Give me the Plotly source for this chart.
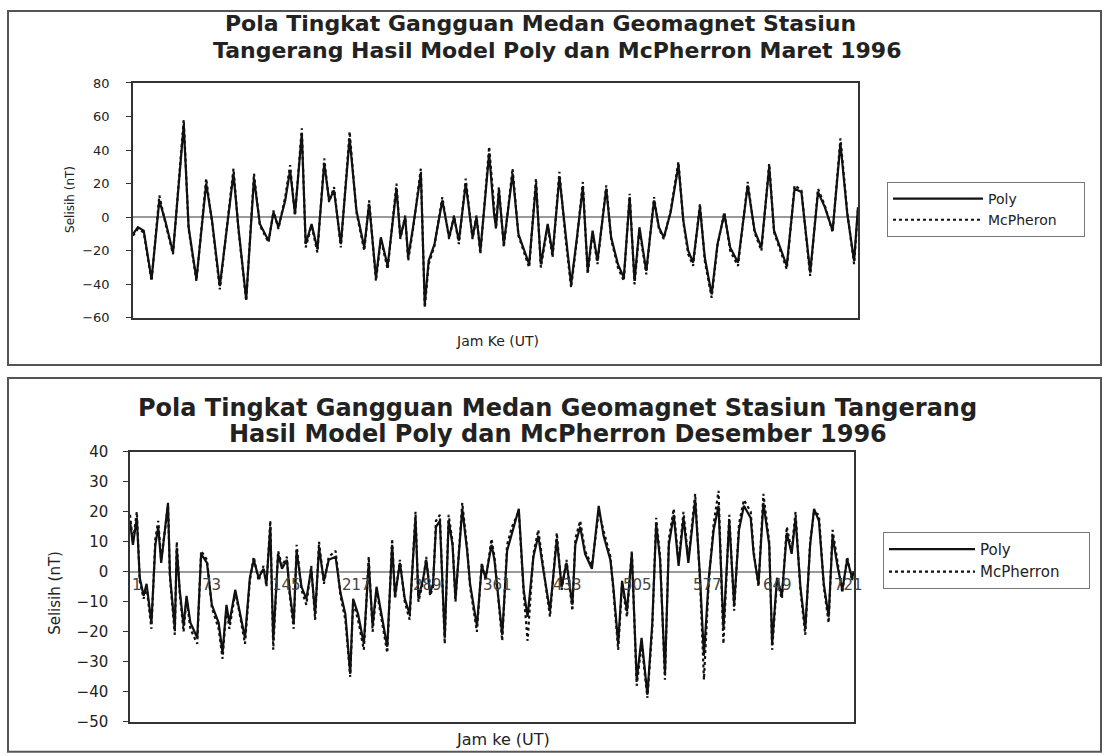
import plotly.graph_objects as go

# ---------------- data: March 1996 (hour, nT) ----------------
hours_mar = [1, 6, 12, 20, 28, 34, 42, 53, 58, 66,
             76, 82, 90, 104, 109, 117, 125, 131, 140, 145,
             150, 157, 162, 167, 174, 178, 184, 190, 197, 202,
             207, 214, 223, 230, 238, 243, 250, 255, 262, 271,
             275, 280, 283, 288, 296, 300, 304, 310, 318, 325,
             330, 335, 342, 349, 353, 357, 366, 371, 373, 376,
             381, 390, 396, 407, 414, 419, 426, 431, 438, 444,
             450, 456, 462, 467, 472, 477, 486, 491, 498, 504,
             510, 515, 520, 527, 535, 540, 545, 552, 560, 565,
             570, 575, 582, 587, 594, 600, 607, 613, 621, 631,
             638, 645, 653, 658, 671, 679, 686, 695, 703, 710,
             718, 726, 733, 740, 744]
poly_mar = [-10, -6, -8, -37, 10, -2, -21, 55, -6, -37,
            20, -2, -41, 26, -6, -49, 23, -4, -14, 3,
            -6, 10, 28, 2, 50, -16, -4, -19, 32, 10,
            16, -16, 47, 4, -18, 8, -36, -12, -29, 17,
            -12, 0, -24, -6, 26, -52, -26, -16, 10, -12,
            0, -14, 20, -12, 0, -20, 38, 2, -6, 16,
            -16, 26, -10, -28, 20, -28, -4, -22, 24, -10,
            -40, -12, 18, -32, -8, -26, 17, -12, -28, -36,
            12, -38, -6, -32, 10, -6, -12, 3, 31, -2,
            -20, -27, 6, -24, -46, -16, 2, -18, -27, 19,
            -8, -18, 30, -8, -29, 17, 15, -33, 15, 6,
            -8, 44, 2, -26, 6]
mcp_mar = [-11, -7, -9, -38, 13, -3, -22, 58, -7, -38,
           23, -3, -43, 29, -7, -50, 26, -5, -15, 4,
           -7, 12, 31, 1, 53, -18, -5, -21, 35, 9,
           18, -18, 51, 3, -20, 10, -38, -13, -31, 20,
           -13, 1, -26, -7, 29, -54, -28, -17, 12, -13,
           1, -16, 23, -13, 1, -22, 42, 3, -7, 18,
           -18, 29, -11, -30, 23, -30, -5, -24, 27, -11,
           -42, -13, 21, -34, -9, -28, 19, -13, -30, -38,
           14, -40, -7, -34, 12, -7, -13, 4, 33, -3,
           -22, -29, 8, -26, -48, -17, 3, -20, -29, 21,
           -9, -20, 32, -9, -31, 19, 16, -35, 17, 7,
           -9, 47, 3, -28, 5]

# ---------------- data: December 1996 (hour, nT) ----------------
hours_dec = [1, 4, 8, 11, 15, 18, 23, 27, 30, 33,
             40, 42, 47, 49, 52, 56, 59, 63, 70, 74,
             80, 85, 92, 96, 100, 103, 109, 113, 119, 124,
             128, 133, 138, 141, 145, 148, 153, 157, 162, 165,
             169, 172, 177, 182, 187, 191, 195, 200, 205, 212,
             217, 222, 227, 230, 235, 241, 246, 250, 254, 259,
             265, 270, 273, 278, 283, 288, 294, 297, 302, 305,
             309, 312, 315, 319, 324, 328, 332, 335, 342, 347,
             350, 357, 362, 366, 372, 375, 383, 388, 393, 400,
             405, 409, 415, 420, 425, 432, 439, 444, 449, 455,
             458, 463, 468, 475, 482, 487, 494, 497, 502, 506,
             511, 516, 521, 526, 532, 537, 541, 545, 550, 554,
             559, 564, 569, 574, 581, 586, 590, 595, 600, 605,
             610, 616, 621, 626, 631, 638, 641, 646, 651, 657,
             660, 665, 670, 675, 680, 684, 689, 694, 699, 703,
             708, 713, 718, 722, 727, 732, 737, 742, 744]
poly_dec = [17, 9, 18, -2, -8, -4, -17, 9, 15, 3,
            23, -1, -19, 8, -6, -18, -8, -17, -22, 6,
            3, -11, -17, -27, -11, -17, -6, -12, -22, -2,
            4, -2, 1, -4, 15, -23, 6, 1, 4, -7,
            -17, 7, -5, -9, 1, -14, 8, -3, 4, 5,
            -7, -14, -34, -9, -14, -24, 3, -18, -5, -14,
            -25, 9, -8, 3, -9, -14, 18, -9, -2, 4,
            -7, -4, 15, 17, -22, 17, 9, -9, 21, 7,
            -4, -18, 2, -2, 9, 4, -21, 7, 13, 21,
            -6, -15, 5, 12, 1, -13, 11, -5, 3, -11,
            9, 15, 6, 1, 22, 12, 4, -5, -24, -3,
            -13, 6, -36, -22, -41, -17, 16, 4, -34, 9,
            19, 2, 18, 3, 24, -2, -28, -2, 14, 22,
            -19, 17, -11, 14, 22, 18, 6, -4, 23, 9,
            -24, -2, -8, 13, 6, 18, -5, -19, 9, 21,
            17, -4, -15, 12, 2, -6, 4, -2, 0]
mcp_dec = [19, 10, 20, -3, -9, -5, -19, 11, 17, 4,
           22, -2, -21, 10, -7, -20, -9, -19, -24, 7,
           4, -12, -19, -29, -12, -19, -7, -13, -24, -3,
           5, -3, 2, -5, 17, -26, 7, 2, 5, -8,
           -19, 9, -6, -11, 2, -16, 10, -4, 5, 7,
           -8, -16, -35, -10, -16, -26, 5, -20, -6, -16,
           -27, 11, -9, 4, -10, -16, 20, -10, -3, 5,
           -8, -5, 17, 19, -24, 19, 10, -10, 23, 8,
           -5, -20, 3, -3, 11, 5, -23, 9, 15, 20,
           -7, -23, 6, 14, 2, -15, 13, -6, 4, -13,
           11, 17, 7, 2, 20, 14, 5, -6, -26, -4,
           -15, 7, -38, -24, -42, -19, 18, 5, -36, 11,
           21, 3, 20, 4, 26, -3, -36, -3, 16, 27,
           -24, 19, -13, 16, 24, 20, 7, -5, 26, 10,
           -26, -3, -9, 15, 7, 20, -6, -21, 10, 20,
           19, -5, -17, 14, 3, -7, 5, -3, 1]

dec_tick_labels = ["1", "73", "145", "217", "289", "361", "433", "505", "577", "649", "721"]

title_top = ["Pola Tingkat Gangguan Medan Geomagnet Stasiun",
             "Tangerang Hasil Model Poly dan McPherron Maret 1996"]
title_bot = ["Pola Tingkat Gangguan Medan Geomagnet Stasiun Tangerang",
             "Hasil Model Poly dan McPherron Desember 1996"]

# ---------------- layout helpers ----------------
W, H = 1106, 756
FONT = "DejaVu Sans"
PAD = "\u00a0" * 5   # widens legend boxes like the original


def px(x):
    return x / W


def py(y):
    # target screen pixel -> paper fraction (compensates page framing)
    yd = (y - 9) / 0.9765
    return 1 - yd / H


fig = go.Figure()

fig.add_trace(go.Scatter(x=hours_mar, y=poly_mar, mode="lines", name="Poly",
                         line=dict(color="#111111", width=2.2),
                         xaxis="x", yaxis="y", legend="legend"))
fig.add_trace(go.Scatter(x=hours_mar, y=mcp_mar, mode="lines", name="McPheron" + PAD,
                         line=dict(color="#111111", width=2.2, dash="dot"),
                         xaxis="x", yaxis="y", legend="legend"))
fig.add_trace(go.Scatter(x=hours_dec, y=poly_dec, mode="lines", name="Poly",
                         line=dict(color="#111111", width=2.2),
                         xaxis="x2", yaxis="y2", legend="legend2"))
fig.add_trace(go.Scatter(x=hours_dec, y=mcp_dec, mode="lines", name="McPherron" + PAD,
                         line=dict(color="#111111", width=2.2, dash="dot"),
                         xaxis="x2", yaxis="y2", legend="legend2"))

axis_common = dict(showline=True, linecolor="#333333", linewidth=1.5, mirror=True,
                   showgrid=False)

fig.update_layout(
    width=W, height=H, autosize=False,
    margin=dict(l=0, r=0, t=0, b=0, pad=0),
    paper_bgcolor="white", plot_bgcolor="white",
    font=dict(family=FONT, color="#222222"),
    xaxis=dict(domain=[px(133), px(858)], range=[1, 744], showticklabels=False,
               ticks="", zeroline=False, anchor="y", **axis_common),
    yaxis=dict(domain=[py(318), py(83)], range=[-60, 80], dtick=20,
               ticks="outside", ticklen=5, tickcolor="#333333",
               ticklabelstandoff=14,
               tickfont=dict(size=13, family=FONT, color="#222222"),
               zeroline=True, zerolinecolor="#9a9a9a", zerolinewidth=1.5,
               anchor="x", **axis_common),
    xaxis2=dict(domain=[px(130), px(854)], range=[1, 744], showticklabels=False,
                ticks="", zeroline=False, anchor="y2", **axis_common),
    yaxis2=dict(domain=[py(722), py(452)], range=[-50, 40], dtick=10,
                ticks="outside", ticklen=5, tickcolor="#333333",
                ticklabelstandoff=12,
                tickfont=dict(size=15, family=FONT, color="#222222"),
                zeroline=True, zerolinecolor="#9a9a9a", zerolinewidth=1.5,
                anchor="x2", **axis_common),
    legend=dict(x=px(887), y=py(182), xanchor="left", yanchor="top",
                bgcolor="white", bordercolor="#777777", borderwidth=1,
                font=dict(size=14, family=FONT, color="#222222"),
                itemwidth=90, tracegroupgap=0, traceorder="normal"),
    legend2=dict(x=px(883), y=py(532), xanchor="left", yanchor="top",
                 bgcolor="white", bordercolor="#777777", borderwidth=1,
                 font=dict(size=15, family=FONT, color="#222222"),
                 itemwidth=86, tracegroupgap=0, traceorder="normal"),
    showlegend=True,
)


def note(text, x, y, size, bold=False, angle=0, color="#222222"):
    return dict(text=("<b>%s</b>" % text) if bold else text,
                x=px(x), y=py(y), xref="paper", yref="paper",
                xanchor="center", yanchor="middle", textangle=angle,
                showarrow=False, font=dict(size=size, family=FONT, color=color))


ann = [
    note(title_top[0], 540, 24, 22, bold=True),
    note(title_top[1], 557, 51, 22, bold=True),
    note(title_bot[0], 557, 408, 24, bold=True),
    note(title_bot[1], 558, 434, 24, bold=True),
    note("Selisih (nT)", 70, 200, 12, angle=-90),
    note("Selisih (nT)", 55, 593, 15, angle=-90),
    note("Jam Ke (UT)", 497, 341, 14),
    note("Jam ke (UT)", 503, 740, 16),
]
# December category labels sitting on the zero line
for lab in dec_tick_labels:
    ann.append(dict(text=lab, x=int(lab), y=0, xref="x2", yref="y2", yanchor="top",
                    xanchor="left", yshift=-2, showarrow=False,
                    font=dict(size=15, family=FONT, color="#444444")))

fig.update_layout(annotations=ann)

# outer frames of the two chart boxes
fig.add_shape(type="rect", xref="paper", yref="paper", x0=px(8), x1=px(1101), y0=py(365), y1=py(11),
              line=dict(color="#555555", width=2), layer="below")
fig.add_shape(type="rect", xref="paper", yref="paper", x0=px(8), x1=px(1101), y0=py(752), y1=py(378),
              line=dict(color="#555555", width=2), layer="below")

fig.write_html("out.html", config={"responsive": False, "displayModeBar": False},
               post_script="document.body.style.margin='0';document.body.style.padding='0';")
